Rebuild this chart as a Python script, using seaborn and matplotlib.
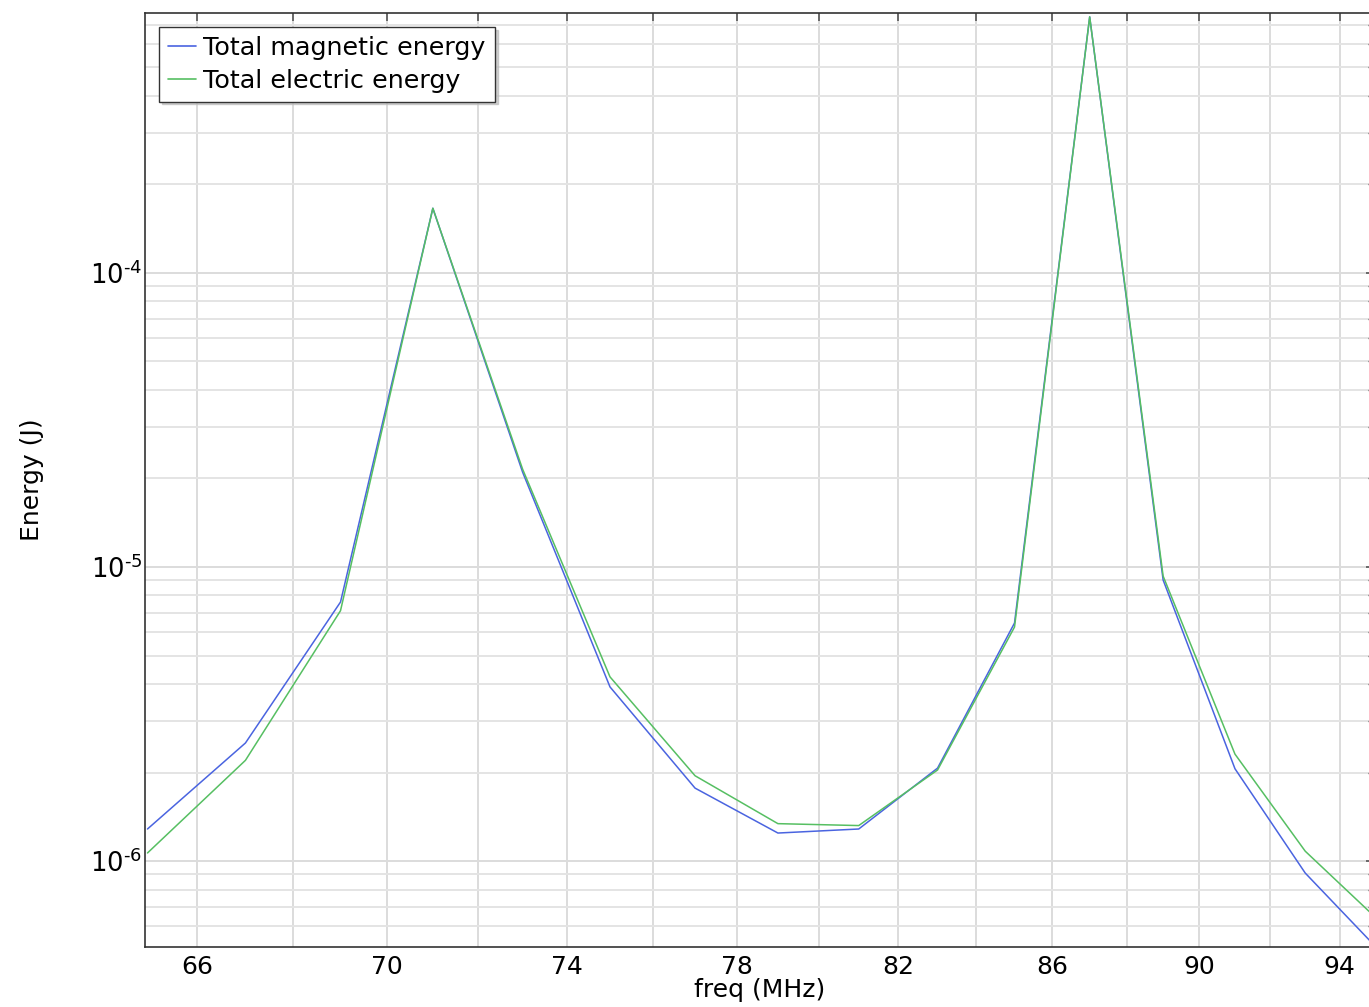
import numpy as np
import pandas as pd
import matplotlib
matplotlib.use("Agg")
import matplotlib.pyplot as plt
import matplotlib.ticker as mticker
import seaborn as sns

freq = [65, 67, 69, 71, 73, 75, 77, 79, 81, 83, 85, 87, 89, 91, 93, 95]
magnetic = [1.285e-6, 2.52e-6, 7.6e-6, 1.66e-4, 2.10e-5, 3.91e-6, 1.77e-6, 1.245e-6,
            1.285e-6, 2.07e-6, 6.45e-6, 7.43e-4, 9.03e-6, 2.06e-6, 9.1e-7, 5.18e-7]
electric = [1.065e-6, 2.2e-6, 7.1e-6, 1.66e-4, 2.15e-5, 4.23e-6, 1.95e-6, 1.34e-6,
            1.32e-6, 2.04e-6, 6.25e-6, 7.43e-4, 9.31e-6, 2.31e-6, 1.08e-6, 6.5e-7]
series_names = ["Total magnetic energy", "Total electric energy"]
colors = ["#4a64e0", "#56bf62"]
xtick_vals = list(range(66, 95, 2))
xtick_labels = [str(v) if (v - 66) % 4 == 0 else "" for v in xtick_vals]

df = pd.DataFrame({
    "freq": freq * 2,
    "energy": magnetic + electric,
    "series": [series_names[0]] * len(freq) + [series_names[1]] * len(freq),
})

sns.set_theme(style="white")
plt.rcParams["font.family"] = ["DejaVu Sans"]
for k in ["text.color", "axes.labelcolor", "xtick.labelcolor", "ytick.labelcolor"]:
    plt.rcParams[k] = "black"

W, H = 1369, 1007
fig = plt.figure(figsize=(W / 100, H / 100), dpi=100)
ax = fig.add_axes([145 / W, (H - 947) / H, (1374 - 145) / W, (947 - 13) / H])

sns.lineplot(data=df, x="freq", y="energy", hue="series", palette=colors,
             linewidth=1.1, ax=ax, legend=True)

ax.set_xscale("log")
ax.set_yscale("log")
ax.set_xlim(64.95, 95)
ax.set_ylim(5.1e-7, 7.66e-4)

ax.xaxis.set_major_locator(mticker.FixedLocator(xtick_vals))
ax.xaxis.set_major_formatter(mticker.FixedFormatter(xtick_labels))
ax.xaxis.set_minor_locator(mticker.NullLocator())
ax.yaxis.set_major_locator(mticker.LogLocator(base=10, numticks=10))
ax.yaxis.set_major_formatter(mticker.FuncFormatter(
    lambda v, p: r"$10^{\text{-}%d}$" % int(round(-np.log10(v)))))
ax.yaxis.set_minor_locator(mticker.LogLocator(base=10, subs=np.arange(2, 10), numticks=20))
ax.yaxis.set_minor_formatter(mticker.NullFormatter())

ax.grid(True, which="major", color="#dcdcdc", linewidth=1.4)
ax.grid(True, which="minor", axis="y", color="#e4e4e4", linewidth=1.4)
ax.set_axisbelow(True)

ax.tick_params(axis="both", which="both", direction="in", top=True, right=True,
               color="#555555", labelcolor="black", labelsize=18)
ax.tick_params(axis="x", which="major", pad=6)
ax.tick_params(axis="y", which="major", pad=2, labelsize=18.5)
ax.tick_params(axis="both", which="major", length=6, width=1.2)
ax.tick_params(axis="y", which="minor", length=4, width=1.0)

for s in ax.spines.values():
    s.set_color("#333333")
    s.set_linewidth(1.2)

ax.set_xlabel("freq (MHz)", fontsize=18, labelpad=-1)
ax.set_ylabel("Energy (J)", fontsize=18, labelpad=33)

handles, labels = ax.get_legend_handles_labels()
leg = ax.legend(handles, labels, loc="upper left", bbox_to_anchor=(0.0114, 0.985),
                fontsize=18.3, frameon=True, fancybox=False,
                shadow={"color": "#bbbbbb", "alpha": 0.7},
                handlelength=1.1, handletextpad=0.3, borderpad=0.35,
                labelspacing=0.35, borderaxespad=0)
leg.get_frame().set_edgecolor("#333333")
leg.get_frame().set_linewidth(1.0)
for line in leg.get_lines():
    line.set_linewidth(1.2)

fig.savefig("out.png", dpi=100)
